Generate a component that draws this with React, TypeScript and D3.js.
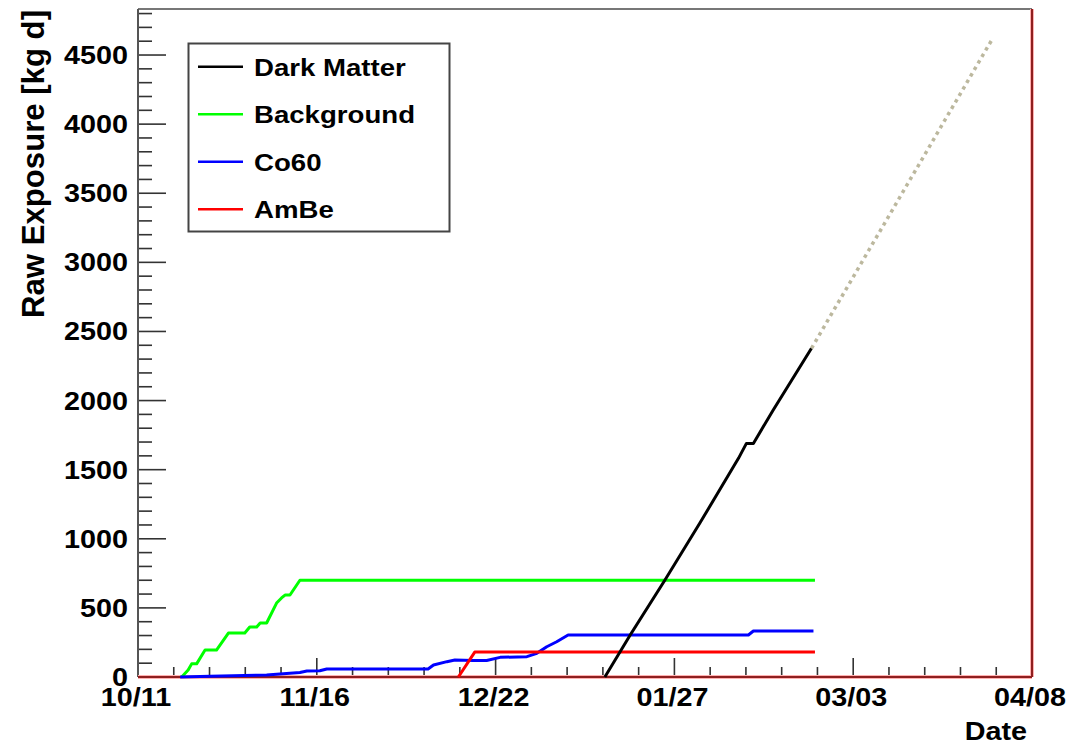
import * as d3 from 'd3';

// days are counted from 10/11/2011; values in kg d
const startDate = Date.UTC(2011, 9, 11);
const endDate = Date.UTC(2012, 3, 8);

const darkMatterDays = [94.0, 99.1, 106.1, 113.1, 120.9, 122.5, 123.9, 127.9, 135.6];
const darkMatterValues = [0, 304, 702, 1112, 1582, 1690, 1690, 1932, 2378];

const projectionDays = [135.6, 171.9];
const projectionValues = [2378, 4609];

const backgroundDays = [8.8, 10.1, 10.8, 11.8, 13.5, 15.8, 18.2, 21.5, 22.5, 23.9, 24.6, 25.9, 27.9, 28.9, 29.6, 30.6, 32.6, 136.3];
const backgroundValues = [0, 50, 95, 95, 195, 195, 318, 318, 362, 362, 391, 391, 535, 572, 593, 593, 700, 700];

const co60Days = [8.5, 14.5, 25.9, 32.6, 34.0, 36.6, 38.0, 58.4, 59.5, 62.2, 63.8, 67.5, 70.2, 72.9, 78.3, 80.3, 82.3, 84.3, 86.6, 122.9, 123.9, 136.0];
const co60Values = [0, 5, 15, 32, 43, 45, 58, 58, 87, 111, 123, 120, 120, 142, 147, 171, 219, 255, 304, 304, 333, 333];

const ambeDays = [64.5, 67.8, 136.3];
const ambeValues = [0, 180, 180];

const xTickLabels = ['10/11', '11/16', '12/22', '01/27', '03/03', '04/08'];
const xTickStepDays = 36;
const yTicks = [0, 500, 1000, 1500, 2000, 2500, 3000, 3500, 4000, 4500];

const legendNames = ['Dark Matter', 'Background', 'Co60', 'AmBe'];
const legendColors = ['#000000', '#00ff00', '#0000ff', '#ff0000'];

const font = "'Liberation Sans', Arial, Helvetica, sans-serif";
const stretch = 1.15;

const toDate = (d: number) => new Date(startDate + d * 864e5);

function Label({ x, y, size, anchor = 'start', children }: { x: number; y: number; size: number; anchor?: string; children: string }) {
  return (
    <text
      transform={`translate(${x},${y}) scale(${stretch},1)`}
      textAnchor={anchor}
      fontSize={size}
      fontWeight="bold"
      fontFamily={font}
      fill="#000"
    >
      {children}
    </text>
  );
}

export default function App() {
  const width = 1084;
  const height = 745;
  const left = 138, right = 1032, top = 9, bottom = 677;

  const x = d3.scaleUtc().domain([new Date(startDate), new Date(endDate)]).range([left, right]);
  const y = d3.scaleLinear().domain([0, 4833]).range([bottom, top]);

  const line = d3
    .line<[number, number]>()
    .x((d) => x(toDate(d[0])))
    .y((d) => y(d[1]));

  const series = [
    { days: backgroundDays, values: backgroundValues, color: '#00ff00' },
    { days: co60Days, values: co60Values, color: '#0000ff' },
    { days: ambeDays, values: ambeValues, color: '#ff0000' },
    { days: darkMatterDays, values: darkMatterValues, color: '#000000' }
  ];

  const majorX = xTickLabels.map((_, i) => toDate(i * xTickStepDays));
  const minorX: Date[] = [];
  for (let i = 0; i < xTickLabels.length - 1; i++) {
    for (let k = 1; k < 5; k++) minorX.push(toDate(i * xTickStepDays + (k * xTickStepDays) / 5));
  }
  const minorY = d3.range(100, 4833, 100).filter((v) => v % 500 !== 0);

  return (
    <svg width={width} height={height} style={{ position: 'absolute', left: 0, top: 0, background: '#fff' }}>
      <rect x={0} y={0} width={width} height={height} fill="#fff" />

      {/* ticks */}
      {yTicks.map((v) => (
        <line key={`ym${v}`} x1={left} x2={left + 28} y1={y(v)} y2={y(v)} stroke="#333" strokeWidth={1.6} />
      ))}
      {minorY.map((v) => (
        <line key={`yn${v}`} x1={left} x2={left + 14} y1={y(v)} y2={y(v)} stroke="#333" strokeWidth={1.6} />
      ))}
      {majorX.map((d, i) => (
        <line key={`xm${i}`} x1={x(d)} x2={x(d)} y1={bottom} y2={bottom - 19} stroke="#333" strokeWidth={1.6} />
      ))}
      {minorX.map((d, i) => (
        <line key={`xn${i}`} x1={x(d)} x2={x(d)} y1={bottom} y2={bottom - 10} stroke="#333" strokeWidth={1.6} />
      ))}

      {/* frame */}
      <line x1={left} x2={right} y1={top} y2={top} stroke="#777" strokeWidth={2} />
      <line x1={left} x2={left} y1={top} y2={bottom} stroke="#555" strokeWidth={2} />
      <line x1={left} x2={right} y1={bottom} y2={bottom} stroke="#ffb0b0" strokeWidth={4} />
      <line x1={right} x2={right} y1={top} y2={bottom} stroke="#ffb0b0" strokeWidth={4} />
      <line x1={left} x2={right} y1={bottom} y2={bottom} stroke="#8e1f1f" strokeWidth={2} />
      <line x1={right} x2={right} y1={top} y2={bottom} stroke="#8e1f1f" strokeWidth={2} />

      {/* data */}
      {series.map((s, i) => (
        <path
          key={i}
          d={line(s.days.map((d, j) => [d, s.values[j]] as [number, number])) ?? ''}
          fill="none"
          stroke={s.color}
          strokeWidth={3}
          strokeLinejoin="round"
        />
      ))}
      <path
        d={line(projectionDays.map((d, j) => [d, projectionValues[j]] as [number, number])) ?? ''}
        fill="none"
        stroke="#bcb89e"
        strokeWidth={3.5}
        strokeDasharray="3.5 4"
      />

      {/* tick labels */}
      {yTicks.map((v) => (
        <Label key={`yl${v}`} x={128} y={y(v) + 9} size={25} anchor="end">
          {String(v)}
        </Label>
      ))}
      {majorX.map((d, i) => (
        <Label key={`xl${i}`} x={x(d) - 2} y={706} size={25} anchor="middle">
          {xTickLabels[i]}
        </Label>
      ))}

      {/* axis titles */}
      <text
        transform={`translate(44,164) scale(${stretch},1) rotate(-90)`}
        textAnchor="middle"
        fontSize={27}
        fontWeight="bold"
        fontFamily={font}
        textLength={308}
        lengthAdjust="spacingAndGlyphs"
      >
        Raw Exposure [kg d]
      </text>
      <Label x={1027} y={740} size={25} anchor="end">
        Date
      </Label>

      {/* legend */}
      <rect x={188.5} y={43.5} width={261} height={188} fill="#fff" stroke="#444" strokeWidth={2} />
      {legendNames.map((name, i) => {
        const ly = 66.7 + i * 47.5;
        return (
          <g key={name}>
            <line x1={198} x2={243} y1={ly} y2={ly} stroke={legendColors[i]} strokeWidth={2.6} />
            <Label x={254} y={ly + 9} size={24}>
              {name}
            </Label>
          </g>
        );
      })}
    </svg>
  );
}
